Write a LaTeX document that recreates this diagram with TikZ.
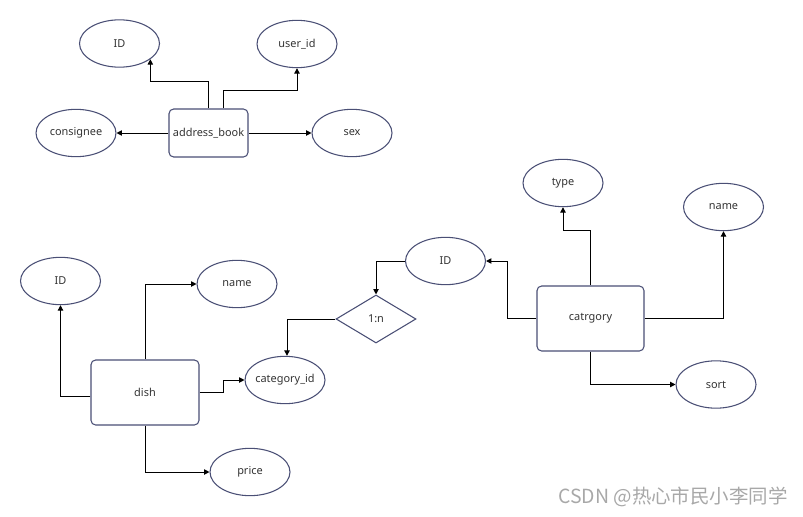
\documentclass[tikz,border=0pt]{standalone}
\usepackage{fontspec}
\setmainfont{Noto Sans}
\newfontfamily\cjkfont{Noto Sans CJK SC}
\usetikzlibrary{shapes.geometric,arrows.meta,calc}
\definecolor{edgeblue}{HTML}{4A4F75}
\definecolor{wm}{HTML}{A8A8A8}
\tikzset{
  attr/.style={ellipse,draw=edgeblue,line width=0.8pt,minimum width=60pt,minimum height=35.5pt,inner xsep=-10pt,inner ysep=0pt,font=\fontsize{8.2}{10}\selectfont,text=black!80},
  entity/.style={rectangle,rounded corners=3.5pt,draw=edgeblue,line width=0.8pt,inner sep=0pt,font=\fontsize{8.2}{10}\selectfont,text=black!80},
  rel/.style={diamond,draw=edgeblue,line width=0.8pt,minimum width=60pt,minimum height=36pt,inner sep=0pt,font=\fontsize{8.2}{10}\selectfont,text=black!80},
  conn/.style={draw=black,line width=0.75pt,-{Triangle[length=4pt,width=4pt]}}
}
\begin{document}
\begin{tikzpicture}[x=0.75pt,y=-0.75pt]
\useasboundingbox (0,0) rectangle (803,517);
% address_book group
\node[entity,minimum width=59.25pt,minimum height=36pt] (ab) at (208.5,133) {address\_book};
\node[attr] (id1) at (119.5,43.5) {ID};
\node[attr] (uid) at (297,44) {user\_id};
\node[attr] (cons) at (76,133) {consignee};
\node[attr] (sex) at (352,133) {sex};
\draw[conn] (ab.north) |- (id1.-27 |- 0,82) -- (id1.-27);
\draw[conn] ($(ab.north)+(14.5,0)$) |- ($(uid.south)+(0,22)$) -- (uid.south);
\draw[conn] (ab.west) -- (cons.east);
\draw[conn] (ab.east) -- (sex.west);
% dish group
\node[entity,minimum width=81pt,minimum height=48.75pt] (dish) at (145,392.5) {dish};
\node[attr] (id2) at (60.5,281) {ID};
\node[attr] (name2) at (237,284) {name};
\node[attr] (catid) at (285,380) {category\_id};
\node[attr] (price) at (250,472) {price};
\draw[conn] ($(dish.west)+(0,3.5)$) -| (id2.south);
\draw[conn] (dish.north) |- (name2.west);
\draw[conn] (dish.east) -- (223,392.5) |- (catid.west);
\draw[conn] (dish.south) |- (price.west);
% relationship
\node[rel] (rel) at (376,319) {1:n};
\draw[conn] (rel.west) -| ($(catid.north)+(2,0)$);
% catrgory group
\node[entity,minimum width=80.25pt,minimum height=48.75pt] (cat) at (590.5,318.5) {catrgory};
\node[attr] (id3) at (445.5,261) {ID};
\node[attr] (type) at (563,183) {type};
\node[attr] (name3) at (723.5,207) {name};
\node[attr] (sort) at (716,384.5) {sort};
\draw[conn] (id3.west) -| (rel.north);
\draw[conn] (cat.north) |- ($(type.south)+(0,23)$) -- (type.south);
\draw[conn] (cat.west) -- (507,318.5) |- (id3.east);
\draw[conn] (cat.east) -| (name3.south);
\draw[conn] (cat.south) |- (sort.west);
% watermark
\node[font=\cjkfont\fontsize{14.6}{16}\selectfont,text=wm,anchor=east,inner sep=0pt] (wmark) at (788,497) {CSDN @热心市民小李同学};
\end{tikzpicture}
\end{document}
